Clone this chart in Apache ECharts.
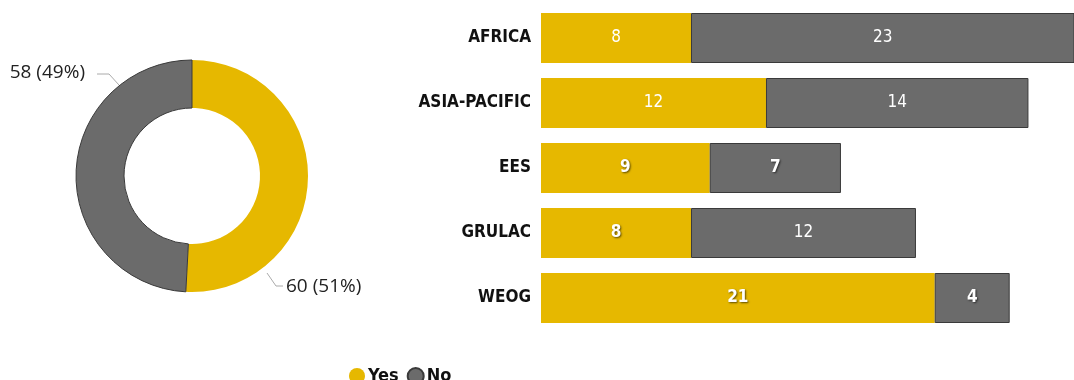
<!DOCTYPE html>
<html><head><meta charset="utf-8">
<script src="https://cdn.jsdelivr.net/npm/echarts@6/dist/echarts.min.js"></script>
<style>html,body{margin:0;padding:0;background:#fff}#c{width:1074px;height:380px}</style>
</head><body><div id="c"></div>
<script>
const seriesNames = ['Yes', 'No'];
const totals = [60, 58];
const regions = ['AFRICA', 'ASIA-PACIFIC', 'EES', 'GRULAC', 'WEOG'];
const yesValues = [8, 12, 9, 8, 21];
const noValues = [23, 14, 7, 12, 4];

const YELLOW = '#E6B800', GRAY = '#6B6B6B';
const NARROW = '"Liberation Sans Narrow","DejaVu Sans Condensed",sans-serif';
// which bar labels appear bold in the reference (style only)
const boldYes = [false, false, true, true, true];
const boldNo = [false, false, true, false, true];

function barLabel(boldArr) {
  return {
    show: true, position: 'inside', color: '#fff', fontFamily: NARROW, fontSize: 17,
    formatter: p => boldArr[p.dataIndex] ? '{b|' + p.value + '}' : '{n|' + p.value + '}',
    rich: {
      b: { fontWeight: 'bold', color: '#fff', fontFamily: NARROW, fontSize: 17, textShadowColor: 'rgba(0,0,0,0.6)', textShadowBlur: 2, textShadowOffsetX: 1, textShadowOffsetY: 1 },
      n: { color: '#fff', fontFamily: NARROW, fontSize: 17 }
    }
  };
}

const chart = echarts.init(document.getElementById('c'), null, { renderer: 'canvas' });
chart.setOption({
  animation: false,
  color: [YELLOW, GRAY],
  legend: {
    data: seriesNames, left: 344, top: 362, icon: 'circle', itemWidth: 16, itemHeight: 16, itemGap: 8,
    textStyle: { fontFamily: NARROW, fontWeight: 'bold', fontSize: 18, color: '#111', padding: [0, 0, 0, -2] }
  },
  grid: { left: 541, right: 0, top: 5.5, height: 325, containLabel: false },
  xAxis: { type: 'value', min: 0, max: 28.43, show: false },
  yAxis: {
    type: 'category', data: regions, inverse: true,
    axisLine: { show: false }, axisTick: { show: false }, splitLine: { show: false },
    axisLabel: { margin: 10, color: '#111', fontFamily: NARROW, fontWeight: 'bold', fontSize: 17 }
  },
  series: [
    {
      type: 'pie', name: 'Total', center: [192, 176], radius: [68, 116], startAngle: 90, clockwise: true,
      data: seriesNames.map((n, i) => ({
        name: n, value: totals[i],
        itemStyle: i === 1 ? { borderColor: '#3a3a3a', borderWidth: 1 } : { borderColor: YELLOW, borderWidth: 0 }
      })),
      label: {
        show: true, position: 'outside', color: '#222', fontSize: 19, overflow: 'none',
        fontFamily: '"Segoe UI","Open Sans",sans-serif',
        formatter: p => p.value + ' (' + Math.round(p.percent) + '%)'
      },
      labelLine: { show: true, lineStyle: { color: '#aaa', width: 1 } },
      labelLayout: function (params) {
        if (params.dataIndex === 0) {
          return { x: 286, y: 287, align: 'left', verticalAlign: 'middle',
            labelLinePoints: [[267, 273], [276, 286], [283, 286]] };
        }
        return { x: 85, y: 73, align: 'right', verticalAlign: 'middle',
          labelLinePoints: [[119, 85], [109, 74], [97, 74]] };
      },
      emphasis: { disabled: true }
    },
    {
      type: 'bar', name: 'Yes', stack: 'total', data: yesValues, barWidth: 50,
      itemStyle: { color: YELLOW }, label: barLabel(boldYes), clip: true
    },
    {
      type: 'bar', name: 'No', stack: 'total', data: noValues, barWidth: 50,
      itemStyle: { color: GRAY, borderColor: '#3a3a3a', borderWidth: 1 }, label: barLabel(boldNo), clip: true
    }
  ]
});
</script></body></html>
